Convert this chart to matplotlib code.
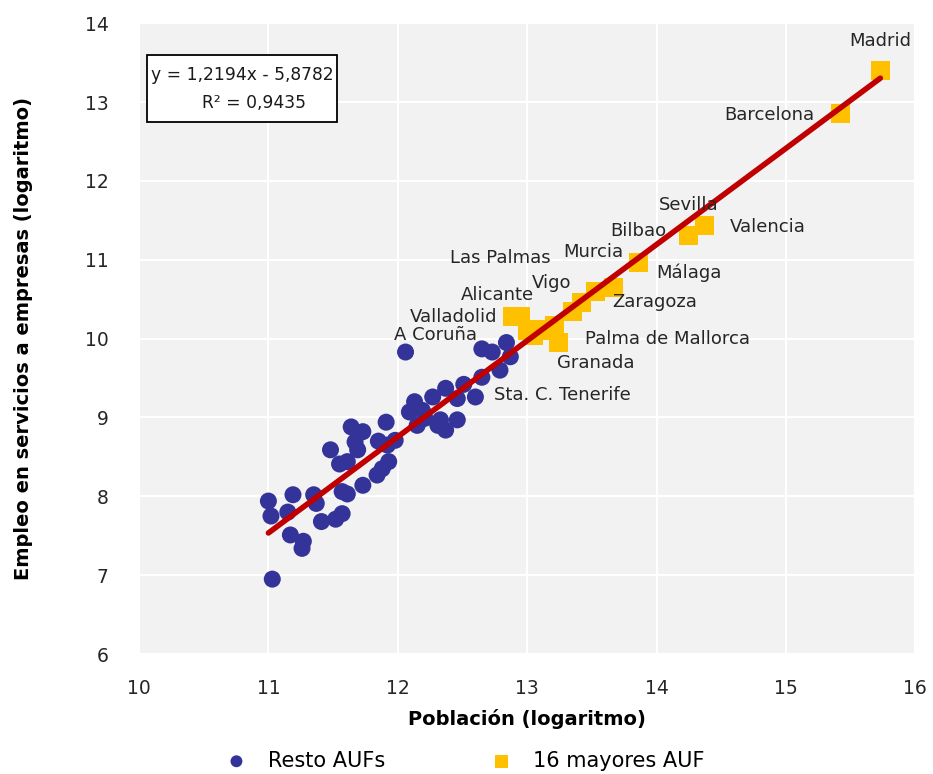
import matplotlib
matplotlib.use('Agg')
import matplotlib.pyplot as plt
import matplotlib.patches as mpatches
import numpy as np

plt.rcParams['font.family'] = ['DejaVu Sans']

# Resto AUFs (log poblacion, log empleo)
resto_x = [11.00, 11.02, 11.19, 11.15, 11.35, 11.37, 11.17, 11.27, 11.26, 11.41,
           11.52, 11.57, 11.57, 11.61, 11.73, 11.55, 11.61, 11.84, 11.03, 11.64,
           11.73, 11.91, 11.67, 11.69, 11.48, 11.85, 11.98, 11.92, 11.93, 11.88,
           12.09, 12.15, 12.06, 12.65, 12.73, 12.84, 12.87, 12.79, 12.65, 12.60,
           12.51, 12.46, 12.37, 12.27, 12.13, 12.19, 12.21, 12.33, 12.31, 12.37,
           12.46]
resto_y = [7.94, 7.75, 8.02, 7.80, 8.02, 7.91, 7.51, 7.43, 7.34, 7.68,
           7.71, 7.78, 8.06, 8.03, 8.14, 8.41, 8.44, 8.27, 6.95, 8.88,
           8.82, 8.94, 8.69, 8.59, 8.59, 8.70, 8.71, 8.65, 8.44, 8.35,
           9.07, 8.90, 9.83, 9.87, 9.83, 9.95, 9.77, 9.60, 9.51, 9.26,
           9.42, 9.24, 9.37, 9.26, 9.20, 9.09, 8.99, 8.97, 8.90, 8.84,
           8.97]

# 16 mayores AUF
mayores_x = [15.73, 15.42, 14.37, 14.25, 13.86, 13.67, 13.53, 13.42, 13.35, 13.24,
             13.21, 13.14, 13.05, 12.95, 12.89, 13.00]
mayores_y = [13.40, 12.86, 11.44, 11.31, 10.97, 10.65, 10.60, 10.46, 10.34, 9.95,
             10.16, 10.11, 10.04, 10.28, 10.28, 10.11]

# etiquetas: (texto, x, y, alineacion)
etiquetas = [
    ('Madrid', 15.73, 13.78, 'center'),
    ('Barcelona', 15.22, 12.83, 'right'),
    ('Sevilla', 14.25, 11.69, 'center'),
    ('Valencia', 14.57, 11.41, 'left'),
    ('Bilbao', 14.08, 11.36, 'right'),
    ('Murcia', 13.74, 11.10, 'right'),
    ('Las Palmas', 13.18, 11.02, 'right'),
    ('Málaga', 14.00, 10.83, 'left'),
    ('Vigo', 13.19, 10.70, 'center'),
    ('Zaragoza', 13.66, 10.46, 'left'),
    ('Alicante', 13.05, 10.55, 'right'),
    ('Valladolid', 12.77, 10.27, 'right'),
    ('A Coruña', 12.61, 10.04, 'right'),
    ('Palma de Mallorca', 13.45, 9.99, 'left'),
    ('Granada', 13.23, 9.69, 'left'),
    ('Sta. C. Tenerife', 12.74, 9.28, 'left'),
]

pendiente = 1.2194
ordenada = -5.8782

fig = plt.figure(figsize=(9.33, 7.74), dpi=100)
ax = fig.add_axes([0.149, 0.155, 0.832, 0.815])
ax.set_facecolor('#F2F2F2')

ax.scatter(resto_x, resto_y, s=150, color='#333399', edgecolors='none',
           label='Resto AUFs', zorder=3)
ax.scatter(mayores_x, mayores_y, s=190, marker='s', color='#FFC000',
           edgecolors='none', label='16 mayores AUF', zorder=3)

xl = np.array([min(resto_x), max(mayores_x)])
ax.plot(xl, pendiente * xl + ordenada, color='#C00000', lw=4,
        solid_capstyle='round', zorder=4)

for txt, tx, ty, ha in etiquetas:
  ax.text(tx, ty, txt, ha=ha, va='center', fontsize=13, color='#262626', zorder=5)

# caja con la ecuacion de la recta
caja = mpatches.Rectangle((0.010, 0.843), 0.245, 0.106, transform=ax.transAxes,
                          fc='white', ec='black', lw=1.3, zorder=6)
ax.add_patch(caja)
ax.text(0.1325, 0.918, 'y = 1,2194x - 5,8782', transform=ax.transAxes,
        ha='center', va='center', fontsize=12.3, color='#1a1a1a', zorder=7)
ax.text(0.148, 0.874, 'R² = 0,9435', transform=ax.transAxes,
        ha='center', va='center', fontsize=12.3, color='#1a1a1a', zorder=7)

ax.set_xlim(10, 16)
ax.set_ylim(6, 14)
ax.set_xticks(range(10, 17))
ax.set_yticks(range(6, 15))
ax.grid(True, color='white', lw=1.5)
ax.set_axisbelow(True)
for s in ax.spines.values():
  s.set_visible(False)
ax.tick_params(length=0, labelsize=13.5, colors='#262626')
ax.tick_params(axis='x', pad=18)
ax.tick_params(axis='y', pad=22)

ax.set_xlabel('Población (logaritmo)', fontsize=14, fontweight='bold', labelpad=8)
ax.set_ylabel('Empleo en servicios a empresas (logaritmo)', fontsize=14,
              fontweight='bold', labelpad=37)

fig.legend(loc='lower left', bbox_to_anchor=(0.211, -0.02), ncol=2, frameon=False,
           fontsize=15, columnspacing=4.6, handletextpad=0.5, markerscale=0.7)

fig.savefig('out.png', dpi=100)
